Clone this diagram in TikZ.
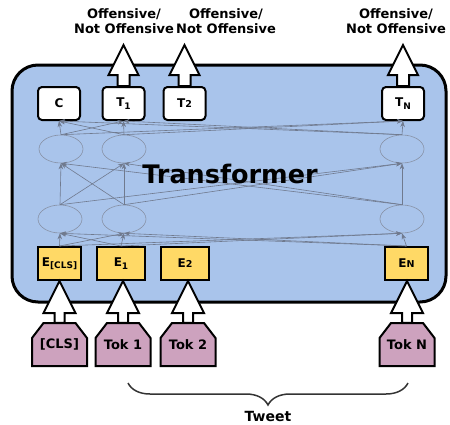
\documentclass[tikz,border=0pt]{standalone}
\usepackage{fontspec}
\setmainfont{DejaVu Sans}
\usetikzlibrary{shapes.geometric,arrows.meta,calc,decorations.pathreplacing}
\definecolor{tfblue}{HTML}{A9C4EB}
\definecolor{eyellow}{HTML}{FFD966}
\definecolor{tokpink}{HTML}{CDA2BE}
\definecolor{conngray}{RGB}{112,122,142}
\definecolor{ellgray}{RGB}{135,145,165}
\newcommand\blockarrow[5]{%
  \draw[blk] let \p1=(#1), \p2=(#2) in
    (\x1-#3,\y1) -- (\x1-#3,\y2-#5) -- (\x1-#4,\y2-#5) -- (\x1,\y2)
    -- (\x1+#4,\y2-#5) -- (\x1+#3,\y2-#5) -- (\x1+#3,\y1) -- cycle;}
\newcommand\tokshape[1]{%
  \draw[tokstyle] (#1-27.5,366) -- (#1-27.5,338) -- (#1-16,323) -- (#1+16,323)
    -- (#1+27.5,338) -- (#1+27.5,366) -- cycle;}
\newcommand\sub[1]{\raisebox{-2.5pt}{\fontsize{9}{9}\selectfont #1}}
\newcommand\sml[1]{{\fontsize{9.5}{9.5}\selectfont #1}}
\begin{document}
\begin{tikzpicture}[x=1pt,y=-1pt,
  tbox/.style={draw=black, line width=2pt, fill=white, rounded corners=4pt,
    minimum width=42pt, minimum height=33pt, inner sep=0pt,
    font=\fontsize{12}{13}\selectfont\bfseries},
  ebox/.style={draw=black, line width=2pt, fill=eyellow, minimum height=33pt,
    inner sep=0pt, font=\fontsize{12}{13}\selectfont\bfseries},
  ell/.style={ellipse, draw=ellgray, line width=0.6pt, minimum width=44pt,
    minimum height=28pt, inner sep=0pt},
  conn/.style={draw=conngray, line width=0.6pt, -{Stealth[length=6pt,width=4.5pt]}},
  blk/.style={draw=black, fill=white, line width=2pt, line join=miter},
  tokstyle/.style={draw=black, fill=tokpink, line width=2pt, line join=miter},
  toktext/.style={minimum width=55pt, minimum height=43pt, inner sep=0pt,
    font=\fontsize{13}{14}\selectfont\bfseries},
  lbl/.style={align=center, font=\fontsize{13}{15}\selectfont\bfseries}]
\useasboundingbox (0,0) rectangle (450,424);
% main transformer box
\draw[line width=3pt, fill=tfblue, rounded corners=26pt] (12,65) rectangle (446,302);
% top output boxes
\node[tbox] (c)  at (59,103.5)    {C};
\node[tbox] (t1) at (123.5,103.5) {T\sub{1}};
\node[tbox] (t2) at (184.5,103.5) {T\sml{2}};
\node[tbox] (tn) at (403,103.5)   {T\sub{N}};
% ellipses
\node[ell] (ua) at (61,149) {};
\node[ell] (ub) at (124,149) {};
\node[ell] (uc) at (402,149) {};
\node[ell] (la) at (60,219) {};
\node[ell] (lb) at (124,219) {};
\node[ell] (lc) at (402,219) {};
% embeddings
\node[ebox, minimum width=43pt] (ecls) at (59.5,263.5) {E\sub{[CLS]}};
\node[ebox, minimum width=48pt] (e1)   at (121,263.5)  {E\sub{1}};
\node[ebox, minimum width=48pt] (e2)   at (185,263.5)  {E\sml{2}};
\node[ebox, minimum width=43pt] (en)   at (406.5,263.5) {E\sml{N}};
% connectors
\foreach \s in {ecls,e1,en}{\foreach \t in {la,lb,lc}{\draw[conn] (\s.north) -- (\t.south);}}
\foreach \s in {la,lb,lc}{\foreach \t in {ua,ub,uc}{\draw[conn] (\s.north) -- (\t.south);}}
\foreach \s in {ua,ub,uc}{\foreach \t in {c,t1,tn}{\draw[conn] (\s.north) -- (\t.south);}}
\node[font=\fontsize{25.5}{27}\selectfont\bfseries, anchor=base] (tr) at (230,183) {Transformer};
% tokens
\tokshape{59.5}
\tokshape{123}
\tokshape{188}
\tokshape{407}
\node[toktext] (tcls) at (59.5,344.5) {[CLS]};
\node[toktext] (tk1)  at (123,344.5)  {Tok 1};
\node[toktext] (tk2)  at (188,344.5)  {Tok 2};
\node[toktext] (tkn)  at (407,344.5)  {Tok N};
% block arrows: tokens -> embeddings
\blockarrow{tcls.north}{tcls.north |- ecls.south}{5pt}{16pt}{32pt}
\blockarrow{tk1.north}{tk1.north |- e1.south}{5pt}{16pt}{32pt}
\blockarrow{tk2.north}{tk2.north |- e2.south}{5pt}{16pt}{32pt}
\blockarrow{tkn.north}{tkn.north |- en.south}{5pt}{16pt}{32pt}
% block arrows: outputs
\coordinate (o1) at (123.5,45);
\coordinate (o2) at (184.5,45);
\coordinate (on) at (403,45);
\blockarrow{t1.north}{o1}{6pt}{15pt}{30pt}
\blockarrow{t2.north}{o2}{6pt}{15pt}{30pt}
\blockarrow{tn.north}{on}{6pt}{15pt}{30pt}
% output labels
\node[lbl] (l1) at (124,21.5) {Offensive/\\Not Offensive};
\node[lbl] (l2) at (226,21.5) {Offensive/\\Not Offensive};
\node[lbl] (l3) at (396,21.5) {Offensive/\\Not Offensive};
% tweet brace
\coordinate (bl) at (128,383);
\coordinate (br) at (408,383);
\draw[line width=1.5pt, draw=black!80, decorate, decoration={brace, mirror, amplitude=22pt}] (bl) -- (br);
\node[font=\fontsize{14}{15}\selectfont\bfseries, anchor=base] (tw) at (268,421.5) {Tweet};
\end{tikzpicture}
\end{document}
